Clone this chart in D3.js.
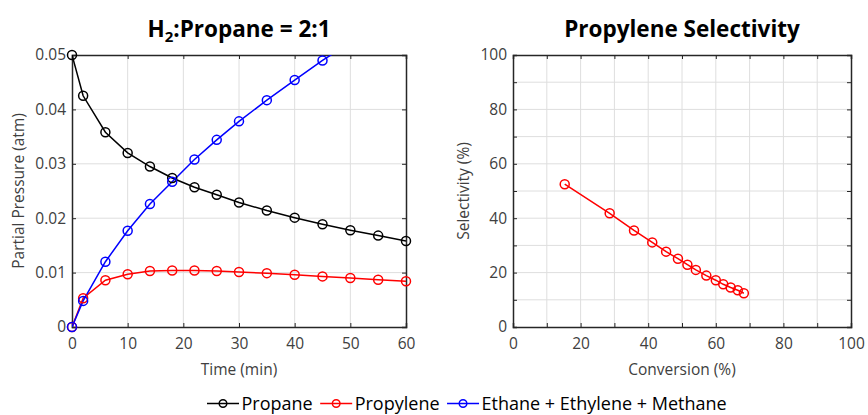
<!DOCTYPE html>
<html><head><meta charset="utf-8">
<script src="https://cdn.jsdelivr.net/npm/d3@7"></script>
<style>
body{margin:0;background:#fff;}
text{font-family:"Open Sans",Lato,sans-serif;}
</style></head>
<body><svg id="c" width="868" height="415"></svg>
<script>
// ---- data ----
const time = [0,2,6,10,14,18,22,26,30,35,40,45,50,55,60];
const propane = [0.05,0.0425,0.0358,0.0320,0.0295,0.0274,0.0257,0.0243,0.0229,0.0214,0.0201,0.0189,0.0178,0.0168,0.0158];
const propylene = [0,0.0053,0.0086,0.0097,0.0103,0.0104,0.0104,0.0103,0.0101,0.0099,0.0096,0.0093,0.0090,0.0087,0.0084];
const cracking = [0,0.0048,0.0120,0.0177,0.0226,0.0267,0.0308,0.0344,0.0378,0.0417,0.0454,0.0490,0.0523,0.0555,0.0586];
const conversion = [15.3,28.6,35.8,41.2,45.3,48.8,51.6,54.1,57.2,60.0,62.2,64.4,66.5,68.3];
const selectivity = [52.5,41.8,35.5,31.1,27.7,25.1,22.9,21.0,18.9,17.2,15.7,14.5,13.5,12.4];
const timeTicks = [0,10,20,30,40,50,60];
const pressTicks = [0,0.01,0.02,0.03,0.04,0.05];
const pressTickLabels = ["0","0.01","0.02","0.03","0.04","0.05"];
const convTicks = [0,10,20,30,40,50,60,70,80,90,100];
const selTicks = [0,10,20,30,40,50,60,70,80,90,100];
const seriesNames = ["Propane","Propylene","Ethane + Ethylene + Methane"];
const seriesColors = ["#000000","#ff0000","#0000ff"];

const svg = d3.select("#c");
const axisColor = "#262626", gridColor = "#dedede", tickTextColor = "#404040";
const FS = "15.5px";

function panel(x, y, xTicks, yTicks, xLabelFn, yLabelFn, title, xTitle, yTitle, clipId, yTitleX){
  const g = svg.append("g");
  const [x0,x1] = x.range(), [y0,y1] = y.range();
  g.append("g").selectAll("line").data(xTicks.slice(1,-1)).join("line")
    .attr("x1",d=>x(d)).attr("x2",d=>x(d)).attr("y1",y0).attr("y2",y1)
    .attr("stroke",gridColor).attr("stroke-width",1);
  g.append("g").selectAll("line").data(yTicks.slice(1,-1)).join("line")
    .attr("y1",d=>y(d)).attr("y2",d=>y(d)).attr("x1",x0).attr("x2",x1)
    .attr("stroke",gridColor).attr("stroke-width",1);
  const ax = [
    d3.axisBottom(x).tickValues(xTicks).tickSize(-4).tickPadding(11).tickFormat(xLabelFn),
    d3.axisTop(x).tickValues(xTicks).tickSize(-4).tickFormat(""),
    d3.axisLeft(y).tickValues(yTicks).tickSize(-4).tickPadding(6).tickFormat(yLabelFn),
    d3.axisRight(y).tickValues(yTicks).tickSize(-4).tickFormat("")
  ];
  const tr = [`translate(0,${y0})`,`translate(0,${y1})`,`translate(${x0},0)`,`translate(${x1},0)`];
  ax.forEach((a,i)=>{
    const gg = g.append("g").attr("transform",tr[i]).call(a);
    gg.select(".domain").attr("stroke",axisColor).attr("stroke-width",1.5);
    gg.selectAll(".tick line").attr("stroke",axisColor).attr("stroke-width",1);
    gg.selectAll(".tick text").attr("fill",tickTextColor).style("font-size",FS).style("font-family","'Open Sans'");
  });
  svg.append("text").attr("x",(x0+x1)/2).attr("y",37).attr("text-anchor","middle")
    .style("font-size","22.5px").style("font-weight","bold").attr("fill","#000").html(title);
  svg.append("text").attr("x",(x0+x1)/2).attr("y",375).attr("text-anchor","middle")
    .style("font-size",FS).attr("fill",tickTextColor).text(xTitle);
  svg.append("text").attr("transform",`translate(${yTitleX},${(y0+y1)/2}) rotate(-90)`).attr("text-anchor","middle")
    .style("font-size",FS).attr("fill",tickTextColor).text(yTitle);
  svg.append("clipPath").attr("id",clipId).append("rect")
    .attr("x",x0).attr("y",y1).attr("width",x1-x0).attr("height",y0-y1);
  return {lines: g.append("g").attr("clip-path",`url(#${clipId})`), marks: g.append("g")};
}

function drawSeries(p, xs, ys, x, y, color, r){
  const pts = xs.map((d,i)=>[x(d),y(ys[i]),ys[i]]);
  const [ylo,yhi] = y.domain();
  p.lines.append("path").attr("d",d3.line()(pts.map(d=>[d[0],d[1]]))).attr("fill","none").attr("stroke",color).attr("stroke-width",1.5);
  p.marks.selectAll(null).data(pts.filter(d=>d[2]>=ylo && d[2]<=yhi)).join("circle")
    .attr("cx",d=>d[0]).attr("cy",d=>d[1]).attr("r",r)
    .attr("fill","none").attr("stroke",color).attr("stroke-width",1.5);
}

// left panel
const xL = d3.scaleLinear().domain([0,60]).range([72,406]);
const yL = d3.scaleLinear().domain([0,0.05]).range([327,55]);
const pL = panel(xL,yL,timeTicks,pressTicks,d=>d3.format("d")(d),(d,i)=>pressTickLabels[i],
  'H<tspan dy="5" style="font-size:15px">2</tspan><tspan dy="-5">:Propane = 2:1</tspan>',
  "Time (min)","Partial Pressure (atm)","clipL",24);
drawSeries(pL,time,propane,xL,yL,seriesColors[0],4.5);
drawSeries(pL,time,propylene,xL,yL,seriesColors[1],4.5);
drawSeries(pL,time,cracking,xL,yL,seriesColors[2],4.5);

// right panel
const xR = d3.scaleLinear().domain([0,100]).range([513,851]);
const yR = d3.scaleLinear().domain([0,100]).range([327,55]);
const pR = panel(xR,yR,convTicks,selTicks,d=>d%20===0?d:"",d=>d%20===0?d:"",
  "Propylene Selectivity","Conversion (%)","Selectivity (%)","clipR",469);
drawSeries(pR,conversion,selectivity,xR,yR,seriesColors[1],4.5);

// legend
const leg = svg.append("g");
let lx = 207;
const ly = 403.5;
seriesNames.forEach((name,i)=>{
  const gi = leg.append("g");
  gi.append("line").attr("x1",lx).attr("x2",lx+32).attr("y1",ly).attr("y2",ly)
    .attr("stroke",seriesColors[i]).attr("stroke-width",1.5);
  gi.append("circle").attr("cx",lx+16).attr("cy",ly).attr("r",3.8).attr("fill","none")
    .attr("stroke",seriesColors[i]).attr("stroke-width",1.5);
  const t = gi.append("text").attr("x",lx+34.5).attr("y",ly+6.3).style("font-size","18px").attr("fill","#000").text(name);
  lx += 34.5 + t.node().getComputedTextLength() + 7.5;
});
</script></body></html>
